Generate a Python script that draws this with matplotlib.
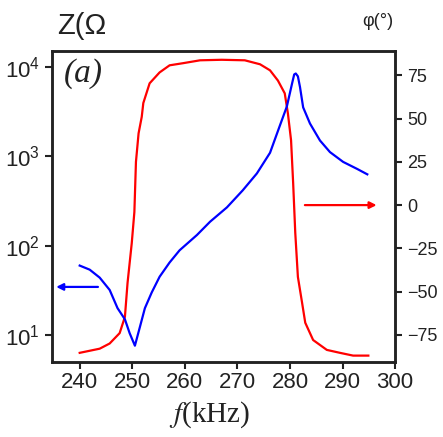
import numpy as np
import matplotlib.pyplot as plt

plt.rcParams['font.family'] = ['Liberation Sans', 'DejaVu Sans']
plt.rcParams['mathtext.default'] = 'regular'

# impedance |Z| (blue, left log axis)
f_z = [240, 241.9, 243.8, 245.7, 247.2, 248.6, 249.5, 250.5, 251.4, 252.4,
       253.7, 255.2, 257.1, 259.0, 262.3, 264.8, 268.0, 271.0, 273.7, 276.2,
       278.1, 279.4, 280.4, 280.8, 281.1, 281.5, 281.9, 282.5, 283.8, 285.7,
       287.6, 290.1, 292.8, 294.7]
z_ohm = [60, 54, 44, 32, 20, 15, 10.5, 7.6, 12, 20,
         30, 45, 65, 89, 132, 186, 269, 417, 646, 1100,
         2240, 3630, 6600, 8300, 8500, 7900, 6000, 3550, 2340, 1510,
         1120, 870, 724, 631]

# phase (red, right axis)
f_ph = [240, 243.8, 245.7, 247.6, 248.6, 249.1, 249.9, 250.4, 250.7, 251.2,
        251.8, 252.1, 253.3, 255.2, 257.1, 259.6, 262.9, 267.0, 271.4, 274.3,
        276.2, 277.7, 279.0, 279.6, 280.2, 280.6, 281.0, 281.5, 282.3, 282.9,
        284.4, 287.0, 289.5, 292.0, 294.9]
phase = [-85.4, -83, -80, -74, -64.6, -45, -22, -4, 25, 41.5,
         51, 59, 70.4, 76.7, 80.8, 82, 83.7, 84, 83.7, 81.4,
         77.9, 72, 64.6, 53, 37.5, 12.7, -16, -41.5, -56.5, -68,
         -78, -83.7, -85.4, -87, -87]

xticks = [240, 250, 260, 270, 280, 290, 300]
ph_ticks = [-75, -50, -25, 0, 25, 50, 75]

fig = plt.figure(figsize=(4.43, 4.37), dpi=100)
ax = fig.add_axes([0.117, 0.172, 0.775, 0.711])
ax2 = ax.twinx()

ax2.plot(f_ph, phase, color='#ff0000', lw=1.6)
ax.plot(f_z, z_ohm, color='#0000ff', lw=1.6, zorder=3)
ax.set_zorder(ax2.get_zorder() + 1)
ax.patch.set_visible(False)

ax.set_yscale('log')
ax.set_xlim(234.7, 300)
ax.set_ylim(10**0.70, 10**4.18)
ax2.set_ylim(-90.6, 89)
ax.set_xticks(xticks)
ax2.set_yticks(ph_ticks)
ax.yaxis.set_minor_locator(plt.NullLocator())

ax.tick_params(axis='x', labelsize=16, length=5, width=1.5, direction='out', colors='#222222', pad=2)
ax.tick_params(axis='y', labelsize=16, length=5, width=1.5, direction='out', colors='#222222')
ax2.tick_params(axis='y', labelsize=13, length=5, width=1.5, direction='out', colors='#222222')
for a in (ax, ax2):
    for s in a.spines.values():
        s.set_linewidth(1.8)
        s.set_color('#222222')

# arrows
ax.annotate('', xy=(235.0, 34.6), xytext=(244.0, 34.6),
            arrowprops=dict(arrowstyle='-|>', color='#0000ff', lw=1.6, mutation_scale=10))
ax2.annotate('', xy=(297.0, 0), xytext=(282.3, 0),
             arrowprops=dict(arrowstyle='-|>', color='#ff0000', lw=1.6, mutation_scale=10))

# labels
fig.text(82 / 443, 1 - 26 / 437, 'Z(Ω', fontsize=21, ha='center', va='center', color='#222222')
fig.text(378 / 443, 1 - 22 / 437, 'φ(°)', fontsize=13, ha='center', va='center', color='#222222')
fig.text(83 / 443, 1 - 74 / 437, '(a)', fontsize=24, ha='center', va='center',
         family='Liberation Serif', style='italic', color='#222222')
fig.text(210 / 443, 1 - 415 / 437, r'$\mathit{f}$(kHz)', fontsize=21, ha='center', va='center',
         family='Liberation Serif', math_fontfamily='stix', color='#222222')

fig.savefig('out.png', dpi=100)
